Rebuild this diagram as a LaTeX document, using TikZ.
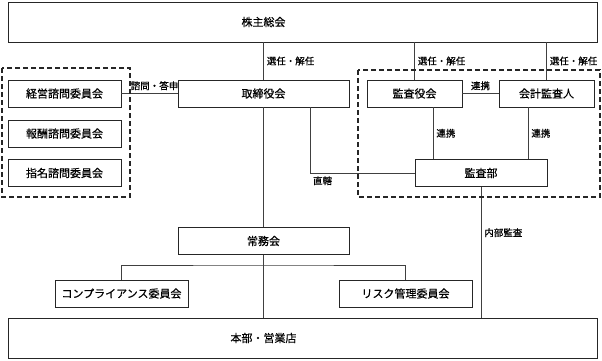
\documentclass[tikz,border=0pt]{standalone}
\usepackage{fontspec}
\setmainfont{Noto Sans CJK JP}[FakeBold=0.5]
\tikzset{
  org/.style={draw=black!85, line width=0.7pt, inner sep=0pt, minimum height=27pt,
    font=\fontsize{11}{13}\selectfont},
  lbl/.style={font=\fontsize{9.5}{11}\selectfont, inner sep=3pt},
  group/.style={draw=black!85, line width=1.1pt, dash pattern=on 5pt off 3pt},
  link/.style={draw=black!75, line width=0.7pt}
}
\begin{document}
\begin{tikzpicture}[x=1pt,y=-1pt]
  \useasboundingbox (0,0) rectangle (602,360);
  \begin{scope}
    % top and bottom
    \node[org, minimum width=589pt, minimum height=40pt] (kabu) at (302.5,22) {};
    \node[org, minimum width=589pt, minimum height=40pt] (honbu) at (302.5,338) {};
    % board
    \node[org, minimum width=171pt] (tori) at (263.5,93.5) {取締役会};
    \node[org, minimum width=171pt] (jomu) at (263.5,241) {常務会};
    \node[org, draw=none] (kabutxt) at (kabu -| tori) {株主総会};
    \node[org, draw=none] (honbutxt) at (honbu -| tori) {本部・営業店};
    % advisory committees
    \node[org, minimum width=113pt] (keiei) at (64.5,93.5) {経営諮問委員会};
    \node[org, minimum width=113pt] (hoshu) at (64.5,133.5) {報酬諮問委員会};
    \node[org, minimum width=113pt] (shimei) at (64.5,173) {指名諮問委員会};
    % audit
    \node[org, minimum width=95pt] (kansayaku) at (414.5,93.5) {監査役会};
    \node[org, minimum width=95pt] (kaikei) at (546.5,93.5) {会計監査人};
    \node[org, minimum width=132pt] (kansabu) at (481,173) {監査部};
    % committees under jomu
    \node[org, minimum width=133pt] (comp) at (121.5,293.5) {コンプライアンス委員会};
    \node[org, minimum width=133pt] (risk) at (405.5,293.5) {リスク管理委員会};
    \coordinate (branch) at (263.5,265);

    % connectors
    \draw[link] (tori.north) -- (tori.north |- kabu.south) node[lbl, midway, right] {選任・解任};
    \draw[link] (kansayaku.north) -- (kansayaku.north |- kabu.south) node[lbl, midway, right] {選任・解任};
    \draw[link] (kaikei.north) -- (kaikei.north |- kabu.south) node[lbl, midway, right] {選任・解任};
    \draw[link] (keiei.east) -- (tori.west) node[lbl, midway, above, xshift=5pt] {諮問・答申};
    \draw[link] (kansayaku.east) -- (kaikei.west) node[lbl, midway, above] {連携};
    \draw[link] ([xshift=18.5pt]kansayaku.south) -- ([xshift=18.5pt]kansayaku.south |- kansabu.north)
      node[lbl, midway, right] {連携};
    \draw[link] ([xshift=-18.5pt]kaikei.south) -- ([xshift=-18.5pt]kaikei.south |- kansabu.north)
      node[lbl, midway, right] {連携};
    \draw[link] (kansabu.west) -| ([xshift=46.5pt]tori.south) node[lbl, pos=0.44, below] {直轄};
    \draw[link] (kansabu.south) -- (kansabu.south |- honbu.north) node[lbl, pos=0.35, right] {内部監査};
    \draw[link] (tori.south) -- (jomu.north);
    \draw[link] (jomu.south) -- (jomu.south |- honbu.north);
    \draw[link] (comp.north) |- (branch) -| (risk.north);

    % dashed groups
    \draw[group] (2,68) rectangle (130,197);
    \draw[group] (358,70) rectangle (600,197);
  \end{scope}
\end{tikzpicture}
\end{document}
